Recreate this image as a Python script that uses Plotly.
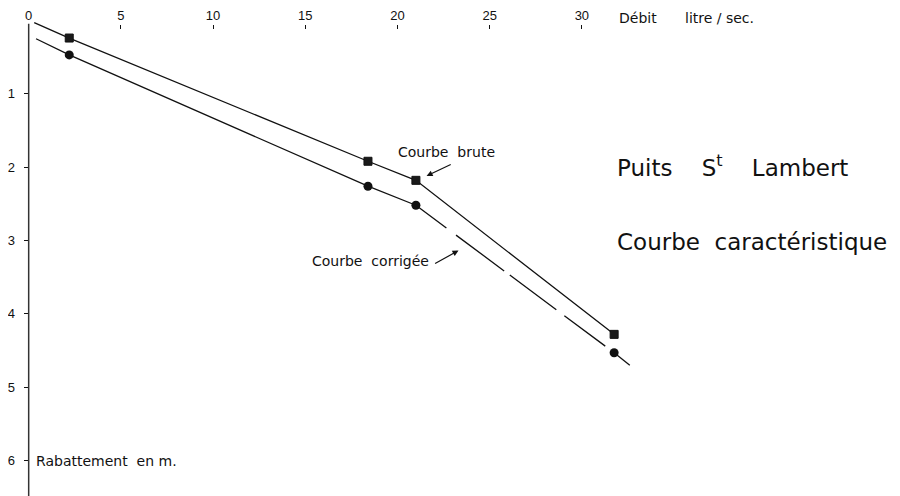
import plotly.graph_objects as go

# Data
debit = [2.2, 18.4, 21.0, 31.75]            # Débit (litre/sec.)
rab_brute = [0.24, 1.92, 2.18, 4.28]        # Courbe brute (m)
rab_corrigee = [0.47, 2.26, 2.52, 4.53]     # Courbe corrigée (m)
brute_start = (0.3, 0.03)
corr_start = (0.4, 0.25)
corr_end = (32.6, 4.70)

x_ticks = [0, 5, 10, 15, 20, 25, 30]
y_ticks = [1, 2, 3, 4, 5, 6]

FONT = "DejaVu Sans"
TICKFONT = "Liberation Sans"
BLACK = "#111111"

fig = go.Figure()

# Courbe brute line
fig.add_trace(go.Scatter(
    x=[brute_start[0]] + debit, y=[brute_start[1]] + rab_brute,
    mode="lines", line=dict(color=BLACK, width=1.3), hoverinfo="skip"))
# Courbe corrigée: solid part
fig.add_trace(go.Scatter(
    x=[corr_start[0]] + debit[:3], y=[corr_start[1]] + rab_corrigee[:3],
    mode="lines", line=dict(color=BLACK, width=1.3), hoverinfo="skip"))
# Courbe corrigée: dashed part
fig.add_trace(go.Scatter(
    x=debit[2:4], y=rab_corrigee[2:4],
    mode="lines", line=dict(color=BLACK, width=1.3,
                            dash="38px,12px,60px,7px,58px,10px,51px,20px"),
    hoverinfo="skip"))
# Courbe corrigée: tail
fig.add_trace(go.Scatter(
    x=[debit[3], corr_end[0]], y=[rab_corrigee[3], corr_end[1]],
    mode="lines", line=dict(color=BLACK, width=1.3), hoverinfo="skip"))
# Markers
fig.add_trace(go.Scatter(
    x=debit, y=rab_brute, mode="markers",
    marker=dict(symbol="square", size=8, color="#1a1a1a",
                line=dict(color=BLACK, width=1))))
fig.add_trace(go.Scatter(
    x=debit, y=rab_corrigee, mode="markers",
    marker=dict(symbol="circle", size=9, color=BLACK)))

# Vertical axis line
fig.add_shape(type="line", x0=0, x1=0, y0=0.045, y1=6.7,
              line=dict(color="#333333", width=1.5))

# page offset (body margin) compensation
OFF = 8
W, H = 900 - OFF, 496 - OFF
X0, XS = 27.7, 18.46
Y0, YS = 17.5, 73.8
xr = [(OFF - X0) / XS, (900 - X0) / XS]
yr = [(496 - Y0) / YS, (OFF - Y0) / YS]

txt_font = dict(family=FONT, size=14, color=BLACK)
big_font = dict(family=FONT, size=23, color=BLACK)
nb = "\u00a0"

ann = [
    dict(x=31.92, y=-0.03, text="Débit", xanchor="left", yanchor="middle",
         showarrow=False, font=txt_font),
    dict(x=35.5, y=-0.03, text="litre / sec.", xanchor="left", yanchor="middle",
         showarrow=False, font=txt_font),
    dict(x=0.29, y=6.0, text="Rabattement" + nb * 2 + "en m.", xanchor="left",
         yanchor="middle", showarrow=False, font=txt_font),
    dict(x=19.9, y=1.795, text="Courbe" + nb * 2 + "brute", xanchor="left",
         yanchor="middle", showarrow=False, font=txt_font),
    dict(x=21.8, y=3.286, text="Courbe" + nb * 2 + "corrigée", xanchor="right",
         yanchor="middle", showarrow=False, font=txt_font),
    dict(x=31.82, y=1.99,
         text="Puits" + nb * 4 + "S<sup>t</sup>" + nb * 4 + "Lambert",
         xanchor="left", yanchor="middle", showarrow=False, font=big_font),
    dict(x=31.82, y=3.015, text="Courbe" + nb * 2 + "caractéristique",
         xanchor="left", yanchor="middle", showarrow=False, font=big_font),
    dict(x=21.58, y=2.12, ax=22.97, ay=1.954, axref="x", ayref="y", text="",
         showarrow=True, arrowhead=2, arrowsize=1, arrowwidth=1.2,
         arrowcolor=BLACK, standoff=0, startstandoff=0),
    dict(x=23.31, y=3.137, ax=21.96, ay=3.326, axref="x", ayref="y", text="",
         showarrow=True, arrowhead=2, arrowsize=1, arrowwidth=1.2,
         arrowcolor=BLACK, standoff=0, startstandoff=0),
]

fig.update_layout(
    width=W, height=H,
    margin=dict(l=0, r=0, t=0, b=0),
    paper_bgcolor="white", plot_bgcolor="white",
    showlegend=False,
    annotations=ann,
    xaxis=dict(range=xr, side="top", anchor="free", position=1 - (21 - OFF) / H,
               tickvals=x_ticks, ticktext=[str(v) for v in x_ticks],
               ticks="inside", ticklen=4, tickcolor=BLACK, tickwidth=1,
               showgrid=False, zeroline=False, showline=False,
               tickfont=dict(family=TICKFONT, size=13, color=BLACK),
               ticklabelstandoff=1),
    yaxis=dict(range=yr, anchor="free", position=(X0 - OFF) / W,
               tickvals=y_ticks, ticktext=[str(v) for v in y_ticks],
               ticks="outside", ticklen=5, tickcolor=BLACK, tickwidth=1,
               showgrid=False, zeroline=False, showline=False,
               tickfont=dict(family=TICKFONT, size=13, color=BLACK),
               ticklabelstandoff=6),
)

fig.write_html("out.html")
